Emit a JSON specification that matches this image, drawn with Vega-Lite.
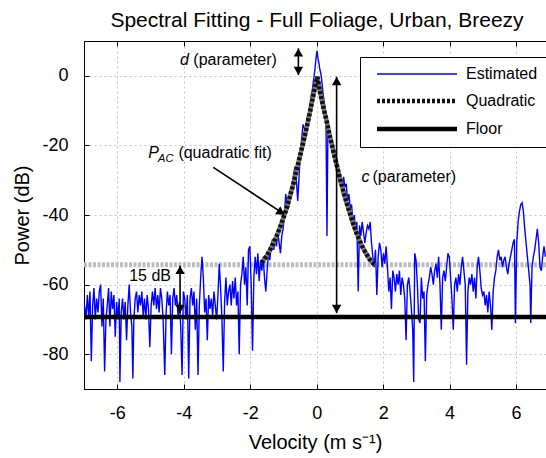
{
  "$schema": "https://vega.github.io/schema/vega-lite/v6.json",
  "width": 462,
  "height": 348,
  "autosize": "none",
  "padding": {"left": 84, "top": 41, "right": 0, "bottom": 69},
  "title": {"text": "Spectral Fitting - Full Foliage, Urban, Breezy", "fontSize": 21, "fontWeight": "normal", "font": "Liberation Sans", "color": "black", "offset": 10, "dx": 2, "anchor": "middle", "frame": "group"},
  "config": {
    "font": "Liberation Sans",
    "view": {"stroke": "black", "strokeWidth": 1},
    "axis": {"domainColor": "black", "tickColor": "black", "labelColor": "black", "titleColor": "black", "labelFont": "Liberation Sans", "titleFont": "Liberation Sans", "labelFontSize": 18, "titleFontSize": 20, "titleFontWeight": "normal", "gridColor": "#c4c4c4", "gridDash": [2, 3], "gridOpacity": 1, "tickSize": -5}
  },
  "resolve": {"axis": {"x": "independent", "y": "independent"}},
  "datasets": {
    "spec": [
      {"series":"Estimated","v":-6.98,"p":-66},{"series":"Estimated","v":-6.94,"p":-70},{"series":"Estimated","v":-6.9,"p":-63},{"series":"Estimated","v":-6.86,"p":-69},{"series":"Estimated","v":-6.82,"p":-62},{"series":"Estimated","v":-6.78,"p":-82},{"series":"Estimated","v":-6.74,"p":-66},{"series":"Estimated","v":-6.7,"p":-61},{"series":"Estimated","v":-6.66,"p":-70},{"series":"Estimated","v":-6.62,"p":-64},{"series":"Estimated","v":-6.58,"p":-68},{"series":"Estimated","v":-6.54,"p":-62},{"series":"Estimated","v":-6.5,"p":-60},{"series":"Estimated","v":-6.46,"p":-72},{"series":"Estimated","v":-6.42,"p":-64},{"series":"Estimated","v":-6.38,"p":-85},{"series":"Estimated","v":-6.34,"p":-70},{"series":"Estimated","v":-6.3,"p":-66},{"series":"Estimated","v":-6.26,"p":-61},{"series":"Estimated","v":-6.22,"p":-72},{"series":"Estimated","v":-6.18,"p":-62},{"series":"Estimated","v":-6.14,"p":-67},{"series":"Estimated","v":-6.1,"p":-63},{"series":"Estimated","v":-6.06,"p":-75},{"series":"Estimated","v":-6.02,"p":-65},{"series":"Estimated","v":-5.98,"p":-70},{"series":"Estimated","v":-5.94,"p":-64},{"series":"Estimated","v":-5.92,"p":-88},{"series":"Estimated","v":-5.88,"p":-68},{"series":"Estimated","v":-5.84,"p":-64},{"series":"Estimated","v":-5.8,"p":-70},{"series":"Estimated","v":-5.76,"p":-65},{"series":"Estimated","v":-5.72,"p":-76},{"series":"Estimated","v":-5.68,"p":-66},{"series":"Estimated","v":-5.64,"p":-60},{"series":"Estimated","v":-5.6,"p":-68},{"series":"Estimated","v":-5.56,"p":-72},{"series":"Estimated","v":-5.53,"p":-87},{"series":"Estimated","v":-5.5,"p":-70},{"series":"Estimated","v":-5.46,"p":-64},{"series":"Estimated","v":-5.42,"p":-62},{"series":"Estimated","v":-5.38,"p":-68},{"series":"Estimated","v":-5.34,"p":-63},{"series":"Estimated","v":-5.3,"p":-66},{"series":"Estimated","v":-5.26,"p":-62},{"series":"Estimated","v":-5.22,"p":-69},{"series":"Estimated","v":-5.18,"p":-64},{"series":"Estimated","v":-5.14,"p":-70},{"series":"Estimated","v":-5.1,"p":-63},{"series":"Estimated","v":-5.06,"p":-67},{"series":"Estimated","v":-5.02,"p":-78},{"series":"Estimated","v":-4.98,"p":-66},{"series":"Estimated","v":-4.94,"p":-62},{"series":"Estimated","v":-4.9,"p":-66},{"series":"Estimated","v":-4.86,"p":-61},{"series":"Estimated","v":-4.82,"p":-67},{"series":"Estimated","v":-4.78,"p":-63},{"series":"Estimated","v":-4.74,"p":-68},{"series":"Estimated","v":-4.7,"p":-61},{"series":"Estimated","v":-4.66,"p":-64},{"series":"Estimated","v":-4.62,"p":-70},{"series":"Estimated","v":-4.57,"p":-86},{"series":"Estimated","v":-4.53,"p":-68},{"series":"Estimated","v":-4.49,"p":-62},{"series":"Estimated","v":-4.45,"p":-66},{"series":"Estimated","v":-4.41,"p":-63},{"series":"Estimated","v":-4.37,"p":-80},{"series":"Estimated","v":-4.33,"p":-64},{"series":"Estimated","v":-4.29,"p":-61},{"series":"Estimated","v":-4.25,"p":-66},{"series":"Estimated","v":-4.21,"p":-63},{"series":"Estimated","v":-4.17,"p":-69},{"series":"Estimated","v":-4.13,"p":-65},{"series":"Estimated","v":-4.09,"p":-72},{"series":"Estimated","v":-4.05,"p":-86},{"series":"Estimated","v":-4.01,"p":-62},{"series":"Estimated","v":-3.97,"p":-64},{"series":"Estimated","v":-3.93,"p":-70},{"series":"Estimated","v":-3.89,"p":-63},{"series":"Estimated","v":-3.85,"p":-87},{"series":"Estimated","v":-3.81,"p":-64},{"series":"Estimated","v":-3.77,"p":-61},{"series":"Estimated","v":-3.73,"p":-66},{"series":"Estimated","v":-3.69,"p":-62},{"series":"Estimated","v":-3.65,"p":-73},{"series":"Estimated","v":-3.61,"p":-64},{"series":"Estimated","v":-3.57,"p":-86},{"series":"Estimated","v":-3.53,"p":-66},{"series":"Estimated","v":-3.49,"p":-58},{"series":"Estimated","v":-3.45,"p":-52},{"series":"Estimated","v":-3.41,"p":-58},{"series":"Estimated","v":-3.37,"p":-68},{"series":"Estimated","v":-3.33,"p":-64},{"series":"Estimated","v":-3.29,"p":-76},{"series":"Estimated","v":-3.25,"p":-63},{"series":"Estimated","v":-3.21,"p":-67},{"series":"Estimated","v":-3.17,"p":-64},{"series":"Estimated","v":-3.13,"p":-69},{"series":"Estimated","v":-3.09,"p":-62},{"series":"Estimated","v":-3.05,"p":-66},{"series":"Estimated","v":-3.01,"p":-70},{"series":"Estimated","v":-2.97,"p":-63},{"series":"Estimated","v":-2.93,"p":-54},{"series":"Estimated","v":-2.89,"p":-61},{"series":"Estimated","v":-2.85,"p":-70},{"series":"Estimated","v":-2.81,"p":-85},{"series":"Estimated","v":-2.77,"p":-65},{"series":"Estimated","v":-2.73,"p":-58},{"series":"Estimated","v":-2.69,"p":-66},{"series":"Estimated","v":-2.65,"p":-62},{"series":"Estimated","v":-2.61,"p":-60},{"series":"Estimated","v":-2.57,"p":-66},{"series":"Estimated","v":-2.53,"p":-59},{"series":"Estimated","v":-2.49,"p":-64},{"series":"Estimated","v":-2.45,"p":-58},{"series":"Estimated","v":-2.41,"p":-66},{"series":"Estimated","v":-2.37,"p":-62},{"series":"Estimated","v":-2.33,"p":-80},{"series":"Estimated","v":-2.29,"p":-60},{"series":"Estimated","v":-2.25,"p":-57},{"series":"Estimated","v":-2.21,"p":-52},{"series":"Estimated","v":-2.17,"p":-60},{"series":"Estimated","v":-2.13,"p":-55},{"series":"Estimated","v":-2.09,"p":-66},{"series":"Estimated","v":-2.05,"p":-50},{"series":"Estimated","v":-2.01,"p":-49},{"series":"Estimated","v":-1.97,"p":-60},{"series":"Estimated","v":-1.93,"p":-79},{"series":"Estimated","v":-1.89,"p":-58},{"series":"Estimated","v":-1.85,"p":-52},{"series":"Estimated","v":-1.81,"p":-57},{"series":"Estimated","v":-1.77,"p":-51},{"series":"Estimated","v":-1.73,"p":-59},{"series":"Estimated","v":-1.69,"p":-53},{"series":"Estimated","v":-1.65,"p":-56},{"series":"Estimated","v":-1.61,"p":-52},{"series":"Estimated","v":-1.57,"p":-58},{"series":"Estimated","v":-1.53,"p":-62},{"series":"Estimated","v":-1.49,"p":-56},{"series":"Estimated","v":-1.45,"p":-51},{"series":"Estimated","v":-1.41,"p":-53},{"series":"Estimated","v":-1.37,"p":-49},{"series":"Estimated","v":-1.33,"p":-47},{"series":"Estimated","v":-1.29,"p":-50},{"series":"Estimated","v":-1.25,"p":-47},{"series":"Estimated","v":-1.21,"p":-49},{"series":"Estimated","v":-1.17,"p":-45},{"series":"Estimated","v":-1.13,"p":-48},{"series":"Estimated","v":-1.09,"p":-51},{"series":"Estimated","v":-1.05,"p":-46},{"series":"Estimated","v":-1.01,"p":-44},{"series":"Estimated","v":-0.97,"p":-40},{"series":"Estimated","v":-0.93,"p":-34},{"series":"Estimated","v":-0.89,"p":-37},{"series":"Estimated","v":-0.85,"p":-38},{"series":"Estimated","v":-0.81,"p":-34},{"series":"Estimated","v":-0.77,"p":-33},{"series":"Estimated","v":-0.73,"p":-31},{"series":"Estimated","v":-0.69,"p":-28},{"series":"Estimated","v":-0.65,"p":-26},{"series":"Estimated","v":-0.61,"p":-30},{"series":"Estimated","v":-0.57,"p":-36},{"series":"Estimated","v":-0.53,"p":-29},{"series":"Estimated","v":-0.49,"p":-22},{"series":"Estimated","v":-0.45,"p":-18},{"series":"Estimated","v":-0.41,"p":-14},{"series":"Estimated","v":-0.37,"p":-15},{"series":"Estimated","v":-0.33,"p":-16},{"series":"Estimated","v":-0.29,"p":-12},{"series":"Estimated","v":-0.25,"p":-11},{"series":"Estimated","v":-0.21,"p":-9},{"series":"Estimated","v":-0.17,"p":-6},{"series":"Estimated","v":-0.13,"p":-4},{"series":"Estimated","v":-0.09,"p":-1},{"series":"Estimated","v":-0.05,"p":2},{"series":"Estimated","v":-0.02,"p":5},{"series":"Estimated","v":0.01,"p":7.2},{"series":"Estimated","v":0.04,"p":5},{"series":"Estimated","v":0.07,"p":3.5},{"series":"Estimated","v":0.1,"p":1.6},{"series":"Estimated","v":0.13,"p":0.5},{"series":"Estimated","v":0.16,"p":-2},{"series":"Estimated","v":0.19,"p":-5},{"series":"Estimated","v":0.22,"p":-7},{"series":"Estimated","v":0.25,"p":-9},{"series":"Estimated","v":0.28,"p":-12},{"series":"Estimated","v":0.31,"p":-46},{"series":"Estimated","v":0.34,"p":-14},{"series":"Estimated","v":0.37,"p":-17},{"series":"Estimated","v":0.41,"p":-19},{"series":"Estimated","v":0.45,"p":-21},{"series":"Estimated","v":0.49,"p":-23},{"series":"Estimated","v":0.53,"p":-22},{"series":"Estimated","v":0.57,"p":-25},{"series":"Estimated","v":0.61,"p":-28},{"series":"Estimated","v":0.65,"p":-26},{"series":"Estimated","v":0.69,"p":-31},{"series":"Estimated","v":0.73,"p":-30},{"series":"Estimated","v":0.77,"p":-34},{"series":"Estimated","v":0.81,"p":-29},{"series":"Estimated","v":0.85,"p":-32},{"series":"Estimated","v":0.89,"p":-31},{"series":"Estimated","v":0.93,"p":-36},{"series":"Estimated","v":0.97,"p":-34},{"series":"Estimated","v":1.01,"p":-38},{"series":"Estimated","v":1.05,"p":-37},{"series":"Estimated","v":1.09,"p":-42},{"series":"Estimated","v":1.13,"p":-40},{"series":"Estimated","v":1.17,"p":-44},{"series":"Estimated","v":1.21,"p":-42},{"series":"Estimated","v":1.25,"p":-62},{"series":"Estimated","v":1.29,"p":-43},{"series":"Estimated","v":1.33,"p":-46},{"series":"Estimated","v":1.37,"p":-42},{"series":"Estimated","v":1.41,"p":-45},{"series":"Estimated","v":1.45,"p":-48},{"series":"Estimated","v":1.49,"p":-45},{"series":"Estimated","v":1.53,"p":-43},{"series":"Estimated","v":1.57,"p":-44},{"series":"Estimated","v":1.61,"p":-42},{"series":"Estimated","v":1.65,"p":-48},{"series":"Estimated","v":1.69,"p":-52},{"series":"Estimated","v":1.73,"p":-55},{"series":"Estimated","v":1.77,"p":-50},{"series":"Estimated","v":1.81,"p":-63},{"series":"Estimated","v":1.85,"p":-52},{"series":"Estimated","v":1.89,"p":-48},{"series":"Estimated","v":1.93,"p":-50},{"series":"Estimated","v":1.97,"p":-55},{"series":"Estimated","v":2.01,"p":-51},{"series":"Estimated","v":2.05,"p":-54},{"series":"Estimated","v":2.09,"p":-49},{"series":"Estimated","v":2.13,"p":-55},{"series":"Estimated","v":2.17,"p":-62},{"series":"Estimated","v":2.21,"p":-58},{"series":"Estimated","v":2.25,"p":-67},{"series":"Estimated","v":2.29,"p":-56},{"series":"Estimated","v":2.33,"p":-58},{"series":"Estimated","v":2.37,"p":-62},{"series":"Estimated","v":2.41,"p":-57},{"series":"Estimated","v":2.45,"p":-60},{"series":"Estimated","v":2.49,"p":-56},{"series":"Estimated","v":2.53,"p":-63},{"series":"Estimated","v":2.57,"p":-58},{"series":"Estimated","v":2.61,"p":-60},{"series":"Estimated","v":2.65,"p":-64},{"series":"Estimated","v":2.69,"p":-76},{"series":"Estimated","v":2.73,"p":-60},{"series":"Estimated","v":2.77,"p":-58},{"series":"Estimated","v":2.81,"p":-62},{"series":"Estimated","v":2.85,"p":-67},{"series":"Estimated","v":2.89,"p":-73},{"series":"Estimated","v":2.92,"p":-88},{"series":"Estimated","v":2.95,"p":-51},{"series":"Estimated","v":2.99,"p":-53},{"series":"Estimated","v":3.03,"p":-60},{"series":"Estimated","v":3.07,"p":-70},{"series":"Estimated","v":3.11,"p":-71},{"series":"Estimated","v":3.15,"p":-58},{"series":"Estimated","v":3.19,"p":-64},{"series":"Estimated","v":3.23,"p":-62},{"series":"Estimated","v":3.27,"p":-82},{"series":"Estimated","v":3.31,"p":-63},{"series":"Estimated","v":3.35,"p":-60},{"series":"Estimated","v":3.39,"p":-58},{"series":"Estimated","v":3.43,"p":-55},{"series":"Estimated","v":3.47,"p":-57},{"series":"Estimated","v":3.51,"p":-60},{"series":"Estimated","v":3.55,"p":-56},{"series":"Estimated","v":3.59,"p":-54},{"series":"Estimated","v":3.63,"p":-58},{"series":"Estimated","v":3.67,"p":-52},{"series":"Estimated","v":3.71,"p":-60},{"series":"Estimated","v":3.75,"p":-73},{"series":"Estimated","v":3.79,"p":-58},{"series":"Estimated","v":3.83,"p":-56},{"series":"Estimated","v":3.87,"p":-59},{"series":"Estimated","v":3.91,"p":-55},{"series":"Estimated","v":3.95,"p":-51},{"series":"Estimated","v":3.99,"p":-52},{"series":"Estimated","v":4.03,"p":-58},{"series":"Estimated","v":4.07,"p":-64},{"series":"Estimated","v":4.11,"p":-73},{"series":"Estimated","v":4.15,"p":-60},{"series":"Estimated","v":4.19,"p":-58},{"series":"Estimated","v":4.23,"p":-62},{"series":"Estimated","v":4.27,"p":-57},{"series":"Estimated","v":4.31,"p":-60},{"series":"Estimated","v":4.35,"p":-55},{"series":"Estimated","v":4.39,"p":-52},{"series":"Estimated","v":4.43,"p":-56},{"series":"Estimated","v":4.47,"p":-60},{"series":"Estimated","v":4.51,"p":-83},{"series":"Estimated","v":4.55,"p":-62},{"series":"Estimated","v":4.59,"p":-58},{"series":"Estimated","v":4.63,"p":-60},{"series":"Estimated","v":4.67,"p":-57},{"series":"Estimated","v":4.71,"p":-62},{"series":"Estimated","v":4.75,"p":-58},{"series":"Estimated","v":4.79,"p":-64},{"series":"Estimated","v":4.83,"p":-55},{"series":"Estimated","v":4.87,"p":-52},{"series":"Estimated","v":4.91,"p":-56},{"series":"Estimated","v":4.95,"p":-61},{"series":"Estimated","v":4.99,"p":-63},{"series":"Estimated","v":5.03,"p":-62},{"series":"Estimated","v":5.07,"p":-66},{"series":"Estimated","v":5.11,"p":-63},{"series":"Estimated","v":5.15,"p":-68},{"series":"Estimated","v":5.19,"p":-62},{"series":"Estimated","v":5.23,"p":-66},{"series":"Estimated","v":5.27,"p":-73},{"series":"Estimated","v":5.31,"p":-62},{"series":"Estimated","v":5.35,"p":-58},{"series":"Estimated","v":5.39,"p":-56},{"series":"Estimated","v":5.43,"p":-52},{"series":"Estimated","v":5.47,"p":-50},{"series":"Estimated","v":5.51,"p":-53},{"series":"Estimated","v":5.55,"p":-52},{"series":"Estimated","v":5.59,"p":-55},{"series":"Estimated","v":5.63,"p":-53},{"series":"Estimated","v":5.67,"p":-52},{"series":"Estimated","v":5.71,"p":-55},{"series":"Estimated","v":5.75,"p":-57},{"series":"Estimated","v":5.79,"p":-54},{"series":"Estimated","v":5.83,"p":-52},{"series":"Estimated","v":5.87,"p":-50},{"series":"Estimated","v":5.91,"p":-48},{"series":"Estimated","v":5.95,"p":-47},{"series":"Estimated","v":5.98,"p":-71},{"series":"Estimated","v":6.02,"p":-48},{"series":"Estimated","v":6.06,"p":-42},{"series":"Estimated","v":6.1,"p":-39},{"series":"Estimated","v":6.14,"p":-37},{"series":"Estimated","v":6.18,"p":-36.5},{"series":"Estimated","v":6.22,"p":-39},{"series":"Estimated","v":6.26,"p":-44},{"series":"Estimated","v":6.3,"p":-48},{"series":"Estimated","v":6.34,"p":-52},{"series":"Estimated","v":6.38,"p":-56},{"series":"Estimated","v":6.42,"p":-60},{"series":"Estimated","v":6.44,"p":-71},{"series":"Estimated","v":6.48,"p":-55},{"series":"Estimated","v":6.52,"p":-52},{"series":"Estimated","v":6.56,"p":-50},{"series":"Estimated","v":6.6,"p":-47},{"series":"Estimated","v":6.64,"p":-44},{"series":"Estimated","v":6.68,"p":-48},{"series":"Estimated","v":6.72,"p":-55},{"series":"Estimated","v":6.76,"p":-56},{"series":"Estimated","v":6.8,"p":-52},{"series":"Estimated","v":6.84,"p":-49},{"series":"Estimated","v":6.88,"p":-52},
      {"series":"Quadratic","v":-1.65,"p":-53.8},{"series":"Quadratic","v":-1.6,"p":-53},{"series":"Quadratic","v":-1.5,"p":-51.7},{"series":"Quadratic","v":-1.4,"p":-50},{"series":"Quadratic","v":-1.3,"p":-48},{"series":"Quadratic","v":-1.2,"p":-46},{"series":"Quadratic","v":-1.1,"p":-43.5},{"series":"Quadratic","v":-1.0,"p":-40.8},{"series":"Quadratic","v":-0.9,"p":-38},{"series":"Quadratic","v":-0.8,"p":-34.5},{"series":"Quadratic","v":-0.7,"p":-31},{"series":"Quadratic","v":-0.6,"p":-27},{"series":"Quadratic","v":-0.5,"p":-23},{"series":"Quadratic","v":-0.4,"p":-19},{"series":"Quadratic","v":-0.3,"p":-14.8},{"series":"Quadratic","v":-0.2,"p":-10.3},{"series":"Quadratic","v":-0.1,"p":-5.5},{"series":"Quadratic","v":0.02,"p":-0.3},{"series":"Quadratic","v":0.1,"p":-4.5},{"series":"Quadratic","v":0.2,"p":-9},{"series":"Quadratic","v":0.3,"p":-13},{"series":"Quadratic","v":0.4,"p":-17.5},{"series":"Quadratic","v":0.5,"p":-21.5},{"series":"Quadratic","v":0.6,"p":-25.5},{"series":"Quadratic","v":0.7,"p":-29.5},{"series":"Quadratic","v":0.8,"p":-33},{"series":"Quadratic","v":0.9,"p":-36.5},{"series":"Quadratic","v":1.0,"p":-39.5},{"series":"Quadratic","v":1.1,"p":-42.5},{"series":"Quadratic","v":1.2,"p":-45.2},{"series":"Quadratic","v":1.3,"p":-47.5},{"series":"Quadratic","v":1.4,"p":-49.6},{"series":"Quadratic","v":1.5,"p":-51.3},{"series":"Quadratic","v":1.6,"p":-52.8},{"series":"Quadratic","v":1.7,"p":-53.9},{"series":"Quadratic","v":1.75,"p":-54.3},
      {"series":"Floor","v":-7,"p":-69.3},{"series":"Floor","v":6.9,"p":-69.3}
    ],
    "arrows": [
      {"v":-0.55,"p":7.9,"v2":-0.55,"p2":0.2},
      {"v":0.6,"p":-0.26,"v2":0.6,"p2":-68.2},
      {"v":-4.11,"p":-54.6,"v2":-4.11,"p2":-68.2},
      {"v":-3.11,"p":-26.3,"v2":-1.0,"p2":-39.6}
    ],
    "headsUp": [{"v":-0.55,"p":6.7},{"v":0.6,"p":-1.5},{"v":-4.11,"p":-55.8}],
    "headsDown": [{"v":-0.55,"p":1.4},{"v":0.6,"p":-67.0},{"v":-4.11,"p":-67.0}],
    "headsDiag": [{"v":-1.07,"p":-39.3}],
    "txtNormal": [
      {"t":"(parameter)","v":-3.71,"p":3.1},
      {"t":"(quadratic fit)","v":-4.16,"p":-23.6},
      {"t":"(parameter)","v":1.68,"p":-30.4},
      {"t":"15 dB","v":-5.64,"p":-58.9}
    ],
    "txtItalic": [
      {"t":"d","v":-4.11,"p":3.1},
      {"t":"P","v":-5.07,"p":-23.6},
      {"t":"c","v":1.35,"p":-30.4}
    ],
    "txtSub": [{"t":"AC","v":-4.77,"p":-24.9}]
  },
  "layer": [
    {
      "data": {"values": [{"p": -54.3}]},
      "mark": {"type": "rule", "color": "#bdbdbd", "strokeWidth": 5, "strokeDash": [3, 1.5]},
      "encoding": {
        "y": {"field": "p", "type": "quantitative", "scale": {"domain": [-90, 10], "nice": false, "zero": false}, "axis": null}
      }
    },
    {
      "data": {"name": "spec"},
      "transform": [{"filter": "datum.series === 'Estimated'"}],
      "mark": {"type": "line", "strokeWidth": 1.4, "clip": true},
      "encoding": {
        "x": {"field": "v", "type": "quantitative", "scale": {"domain": [-7, 6.9], "nice": false, "zero": false},
              "axis": {"orient": "bottom", "values": [-6, -4, -2, 0, 2, 4, 6], "title": "Velocity (m s⁻¹)", "grid": true, "labelPadding": 20, "titlePadding": 10, "labelExpr": "'' + datum.value"}},
        "y": {"field": "p", "type": "quantitative",
              "axis": {"orient": "left", "values": [-80, -60, -40, -20, 0], "title": "Power (dB)", "grid": true, "labelPadding": 21, "titlePadding": 9, "labelExpr": "'' + datum.value"}},
        "color": {"field": "series", "type": "nominal",
                  "scale": {"domain": ["Estimated", "Quadratic", "Floor"], "range": ["#0000ff", "#111111", "#000000"]},
                  "legend": {"title": null, "orient": "none", "legendX": 276, "legendY": 16, "fillColor": "white", "strokeColor": "black", "padding": 9, "labelFontSize": 16, "labelFont": "Liberation Sans", "labelColor": "black", "symbolType": "M-8,0H8", "symbolSize": 100, "symbolOffset": 40, "labelOffset": 41, "rowPadding": 10, "labelLimit": 200,
                             "encode": {"symbols": {"update": {"strokeWidth": {"signal": "datum.value === 'Estimated' ? 1.4 : 4.5"}}}}}},
        "strokeDash": {"field": "series", "type": "nominal",
                       "scale": {"domain": ["Estimated", "Quadratic", "Floor"], "range": [[1, 0], [3, 2], [1, 0]]},
                       "legend": {"title": null}}
      }
    },
    {
      "data": {"name": "spec"},
      "transform": [{"filter": "datum.series === 'Quadratic'"}],
      "mark": {"type": "line", "strokeWidth": 4.5, "color": "#7a7a7a", "clip": true},
      "encoding": {
        "x": {"field": "v", "type": "quantitative", "axis": null},
        "y": {"field": "p", "type": "quantitative", "axis": null}
      }
    },
    {
      "data": {"name": "spec"},
      "transform": [{"filter": "datum.series === 'Quadratic'"}],
      "mark": {"type": "line", "strokeWidth": 4.5, "clip": true},
      "encoding": {
        "x": {"field": "v", "type": "quantitative", "axis": null},
        "y": {"field": "p", "type": "quantitative", "axis": null},
        "color": {"field": "series", "type": "nominal"},
        "strokeDash": {"field": "series", "type": "nominal"}
      }
    },
    {
      "data": {"name": "spec"},
      "transform": [{"filter": "datum.series === 'Floor'"}],
      "mark": {"type": "line", "strokeWidth": 4.5, "clip": true},
      "encoding": {
        "x": {"field": "v", "type": "quantitative",
              "axis": {"orient": "top", "values": [-6, -4, -2, 0, 2, 4, 6], "labels": false, "title": null, "grid": false, "domain": true}},
        "y": {"field": "p", "type": "quantitative", "axis": null},
        "color": {"field": "series", "type": "nominal"},
        "strokeDash": {"field": "series", "type": "nominal"}
      }
    },
    {
      "data": {"name": "arrows"},
      "mark": {"type": "rule", "color": "black", "strokeWidth": 1.6},
      "encoding": {
        "x": {"field": "v", "type": "quantitative", "axis": null},
        "y": {"field": "p", "type": "quantitative", "axis": null},
        "x2": {"field": "v2"},
        "y2": {"field": "p2"}
      }
    },
    {
      "data": {"name": "headsUp"},
      "mark": {"type": "point", "shape": "triangle-up", "filled": true, "color": "black", "size": 90, "opacity": 1},
      "encoding": {
        "x": {"field": "v", "type": "quantitative", "axis": null},
        "y": {"field": "p", "type": "quantitative", "axis": null}
      }
    },
    {
      "data": {"name": "headsDown"},
      "mark": {"type": "point", "shape": "triangle-down", "filled": true, "color": "black", "size": 90, "opacity": 1},
      "encoding": {
        "x": {"field": "v", "type": "quantitative", "axis": null},
        "y": {"field": "p", "type": "quantitative", "axis": null}
      }
    },
    {
      "data": {"name": "headsDiag"},
      "mark": {"type": "point", "shape": "triangle-right", "angle": 33.6, "filled": true, "color": "black", "size": 90, "opacity": 1},
      "encoding": {
        "x": {"field": "v", "type": "quantitative", "axis": null},
        "y": {"field": "p", "type": "quantitative", "axis": null}
      }
    },
    {
      "data": {"name": "txtNormal"},
      "mark": {"type": "text", "align": "left", "baseline": "alphabetic", "fontSize": 16, "font": "Liberation Sans", "color": "black"},
      "encoding": {
        "x": {"field": "v", "type": "quantitative", "axis": null},
        "y": {"field": "p", "type": "quantitative", "axis": null},
        "text": {"field": "t"}
      }
    },
    {
      "data": {"name": "txtItalic"},
      "mark": {"type": "text", "align": "left", "baseline": "alphabetic", "fontSize": 16, "fontStyle": "italic", "font": "Liberation Sans", "color": "black"},
      "encoding": {
        "x": {"field": "v", "type": "quantitative", "axis": null},
        "y": {"field": "p", "type": "quantitative", "axis": null},
        "text": {"field": "t"}
      }
    },
    {
      "data": {"name": "txtSub"},
      "mark": {"type": "text", "align": "left", "baseline": "alphabetic", "fontSize": 11, "fontStyle": "italic", "font": "Liberation Sans", "color": "black"},
      "encoding": {
        "x": {"field": "v", "type": "quantitative", "axis": null},
        "y": {"field": "p", "type": "quantitative", "axis": null},
        "text": {"field": "t"}
      }
    }
  ]
}
